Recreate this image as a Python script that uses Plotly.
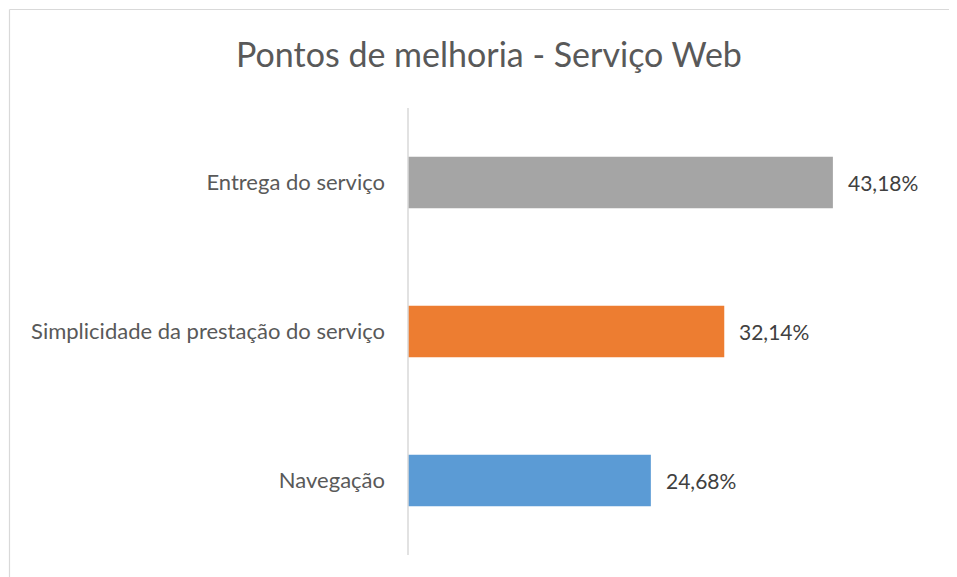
import plotly.graph_objects as go

categories = ["Navegação", "Simplicidade da prestação do serviço", "Entrega do serviço"]
values = [24.68, 32.14, 43.18]
labels = ["24,68%", "32,14%", "43,18%"]
colors = ["#5B9BD5", "#ED7D31", "#A5A5A5"]

# page body has an 8px offset; compensate
OFF = 8
W, H = 957, 577
PL, PR, PT, PB = 408 - OFF, 900 - OFF, 108 - OFF, 555 - OFF
L, R, T, B = PL, W - PR, PT, H - PB
pw = PR - PL
ph = PB - PT
FONT = "Lato"

fig = go.Figure()
fig.add_trace(go.Bar(
    x=values, y=categories, orientation="h",
    marker=dict(color=colors, line=dict(width=0)),
    hoverinfo="skip",
))

for v, c, t in zip(values, categories, labels):
    fig.add_annotation(x=v, y=c, text=t, showarrow=False, xanchor="left",
                       xshift=13, font=dict(family=FONT, size=21, color="#404040"))

def px_x(p):
    return (p - OFF - L) / pw

def px_y(p):
    return (H - B - (p - OFF)) / ph

fig.update_layout(
    width=W, height=H,
    margin=dict(l=L, r=R, t=T, b=B),
    paper_bgcolor="white", plot_bgcolor="white",
    title=dict(text="Pontos de melhoria - Serviço Web", x=(489 - OFF) / W, xanchor="center",
               y=1 - (55 - OFF) / H, yanchor="middle",
               font=dict(family=FONT, size=34, color="#595959")),
    bargap=0.653,
    showlegend=False,
    xaxis=dict(range=[0, 50], visible=False, fixedrange=True),
    yaxis=dict(range=[-0.5, 2.5], showgrid=False, zeroline=False,
               showline=False, ticks="", ticklabelstandoff=22,
               tickfont=dict(family=FONT, size=22, color="#595959")),
    shapes=[
        dict(type="line", xref="paper", yref="paper", x0=0, x1=0, y0=0, y1=1,
             line=dict(color="#D9D9D9", width=1.5)),
        dict(type="line", xref="paper", yref="paper", x0=px_x(9.5), x1=px_x(970),
             y0=px_y(9.5), y1=px_y(9.5), line=dict(color="#D9D9D9", width=1.2)),
        dict(type="line", xref="paper", yref="paper", x0=px_x(9.5), x1=px_x(9.5),
             y0=px_y(9.5), y1=px_y(590), line=dict(color="#D9D9D9", width=1.2)),
    ],
)

fig.write_html("out.html")
